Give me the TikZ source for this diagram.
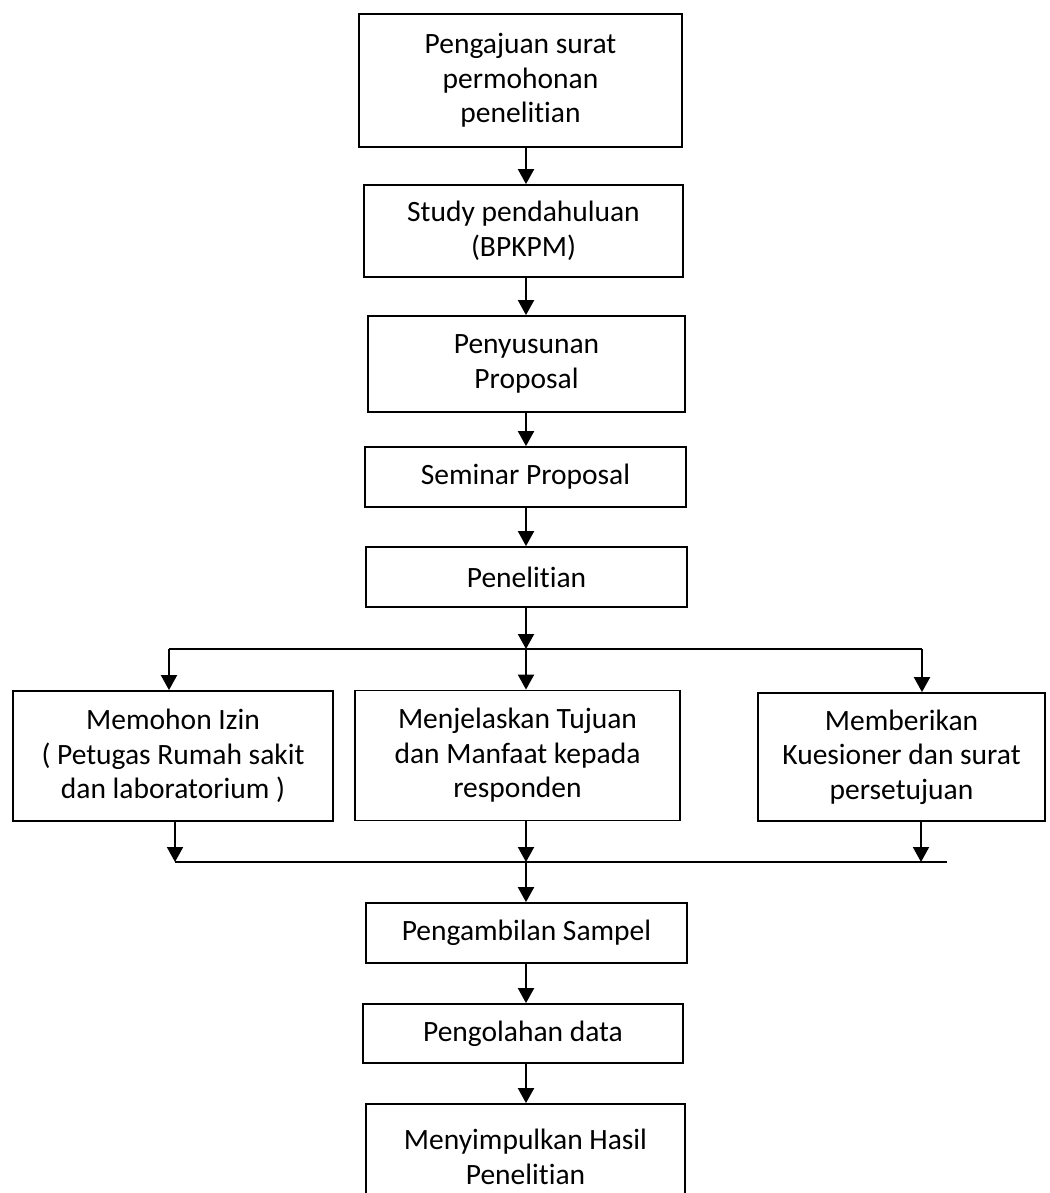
\documentclass[tikz,border=0pt]{standalone}
\usepackage{fontspec}
\setmainfont{Carlito}[Ligatures=NoCommon]
\usetikzlibrary{arrows.meta}
\begin{document}
\begin{tikzpicture}[x=1pt,y=-1pt,
  box/.style={draw, line width=1.8pt, align=center, inner sep=0pt, font=\fontsize{29.5}{34.5}\selectfont},
  arr/.style={line width=2pt, -{Triangle[width=16pt,length=15pt]}},
  ln/.style={line width=2pt}]
\clip (0,0) rectangle (1049,1193);
\fill[white] (0,0) rectangle (1049,1193);
% main column
\node[box, minimum width=323pt, minimum height=133pt] (b1) at (520.5,80.5) {Pengajuan surat\\permohonan\\penelitian};
\node[box, minimum width=319pt, minimum height=92pt] (b2) at (523.5,231) {Study pendahuluan\\(BPKPM)};
\node[box, minimum width=317pt, minimum height=96pt] (b3) at (526.5,364) {Penyusunan\\Proposal};
\node[box, minimum width=321pt, minimum height=60pt] (b4) at (525.5,477) {Seminar Proposal};
\node[box, minimum width=321pt, minimum height=60pt] (b5) at (526.5,577) {Penelitian};
% three branches
\node[box, minimum width=320pt, minimum height=130pt] (L) at (173,756) {Memohon Izin\\( Petugas Rumah sakit\\dan laboratorium )};
\node[box, minimum width=325pt, minimum height=130pt] (M) at (517.5,755.5) {Menjelaskan Tujuan\\dan Manfaat kepada\\responden};
\node[box, minimum width=287pt, minimum height=128pt] (R) at (901.5,757) {Memberikan\\Kuesioner dan surat\\persetujuan};
% lower column
\node[box, minimum width=321pt, minimum height=60pt] (b7) at (526.5,933) {Pengambilan Sampel};
\node[box, minimum width=320pt, minimum height=59pt] (b8) at (523,1033.5) {Pengolahan data};
\node[box, minimum width=319pt, minimum height=106pt] (b9) at (525.5,1157) {Menyimpulkan Hasil\\Penelitian};
% helper coordinates
\coordinate (sp) at (526,0);
\coordinate (tl) at (169,649);
\coordinate (tr) at (922,649);
\coordinate (bl) at (175,862);
\coordinate (br) at (947,862);
\coordinate (rx) at (921,862);
% connectors
\draw[arr] (b1.south -| sp) -- (b2.north -| sp);
\draw[arr] (b2.south -| sp) -- (b3.north -| sp);
\draw[arr] (b3.south -| sp) -- (b4.north -| sp);
\draw[arr] (b4.south -| sp) -- (b5.north -| sp);
\draw[arr] (b5.south -| sp) -- (sp |- tl);
\draw[ln] (tl) -- (tr);
\draw[arr] (tl) -- (tl |- L.north);
\draw[arr] (sp |- tl) -- (M.north -| sp);
\draw[arr] (tr) -- (tr |- R.north);
\draw[arr] (L.south -| bl) -- (bl);
\draw[arr] (M.south -| sp) -- (sp |- bl);
\draw[arr] (R.south -| rx) -- (rx);
\draw[ln] (bl) -- (br);
\draw[arr] (sp |- bl) -- (b7.north -| sp);
\draw[arr] (b7.south -| sp) -- (b8.north -| sp);
\draw[arr] (b8.south -| sp) -- (b9.north -| sp);
\end{tikzpicture}
\end{document}
